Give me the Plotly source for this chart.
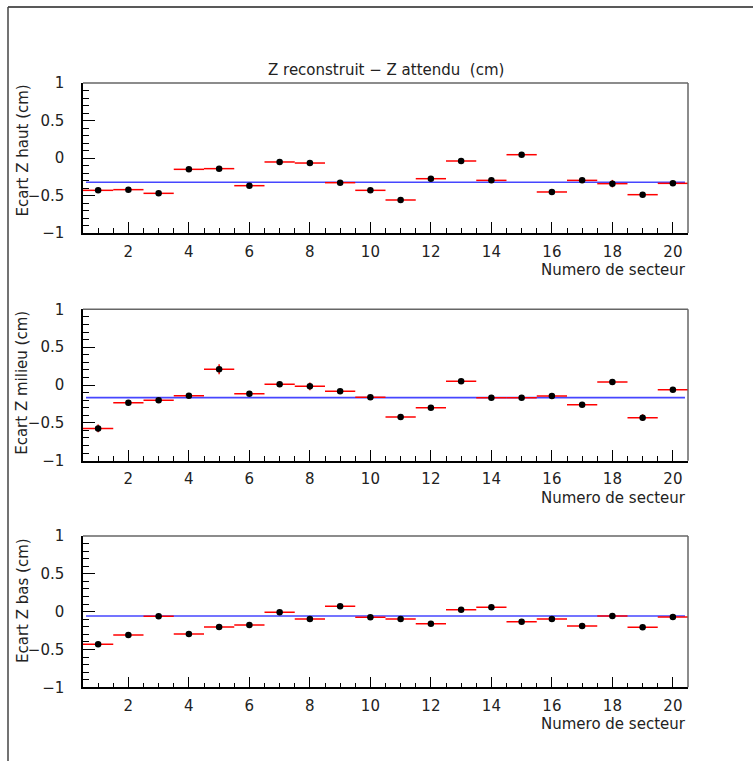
import plotly.graph_objects as go

# ---- data ----
sectors = list(range(1, 21))
z_haut = [-0.431, -0.422, -0.471, -0.151, -0.142, -0.369, -0.053, -0.067, -0.329, -0.431,
          -0.560, -0.276, -0.040, -0.298, 0.044, -0.453, -0.298, -0.342, -0.489, -0.338]
z_milieu = [-0.573, -0.233, -0.203, -0.141, 0.207, -0.115, 0.009, -0.018, -0.084, -0.163,
            -0.423, -0.300, 0.048, -0.167, -0.167, -0.145, -0.260, 0.040, -0.432, -0.062]
z_bas = [-0.432, -0.308, -0.062, -0.295, -0.203, -0.176, -0.009, -0.097, 0.070, -0.075,
         -0.097, -0.159, 0.026, 0.057, -0.132, -0.097, -0.189, -0.057, -0.207, -0.070]
err_haut = [0.02, 0.02, 0.02, 0.02, 0.02, 0.02, 0.02, 0.02, 0.02, 0.02,
            0.02, 0.02, 0.02, 0.02, 0.02, 0.02, 0.02, 0.05, 0.02, 0.02]
err_milieu = [0.05, 0.02, 0.02, 0.02, 0.066, 0.02, 0.035, 0.05, 0.02, 0.02,
              0.02, 0.02, 0.02, 0.02, 0.02, 0.02, 0.02, 0.02, 0.045, 0.02]
err_bas = [0.02] * 20
err_x = 0.5
mean_haut = -0.324
mean_milieu = -0.167
mean_bas = -0.057

panels = [
    ("Ecart Z haut (cm)", z_haut, err_haut, mean_haut),
    ("Ecart Z milieu (cm)", z_milieu, err_milieu, mean_milieu),
    ("Ecart Z bas (cm)", z_bas, err_bas, mean_bas),
]

W, H = 753, 761
FONT = "DejaVu Sans"
TXT = "#222222"

# pixel geometry (top, bottom) of each plot frame
frames = [(83, 233), (309.3, 460.7), (536, 687.3)]
x_left, x_right = 83, 688

def px(x):
    return x / W

def py(y):
    return 1 - y / H

fig = go.Figure()
shapes = []
annotations = []

for i, (ytitle, vals, errs, mean) in enumerate(panels):
    n = i + 1
    xa = "x" if n == 1 else f"x{n}"
    ya = "y" if n == 1 else f"y{n}"
    # mean line
    fig.add_trace(go.Scatter(
        x=[sectors[0] - 0.4, sectors[-1] + 0.4], y=[mean, mean],
        mode="lines", line=dict(color="rgb(70,70,255)", width=1.6),
        xaxis=xa, yaxis=ya, showlegend=False, hoverinfo="skip"))
    # points
    fig.add_trace(go.Scatter(
        x=sectors, y=vals, mode="markers",
        marker=dict(color="black", size=6.5),
        error_x=dict(type="constant", value=err_x, color="rgb(255,0,0)", thickness=1.5, width=0),
        error_y=dict(type="data", array=errs, color="rgb(255,0,0)", thickness=1.5, width=0),
        xaxis=xa, yaxis=ya, showlegend=False))

    top, bot = frames[i]
    axis_x = dict(
        domain=[px(x_left), px(x_right)], range=[0.5, 20.5], anchor=ya,
        showgrid=False, zeroline=False, showline=True, linecolor="black", linewidth=1.5,
        ticks="inside", ticklen=11, tickwidth=1.1, tickcolor="black",
        tickvals=list(range(2, 21, 2)), automargin=False,
        minor=dict(ticks="inside", ticklen=5, tickwidth=1.1, tickcolor="black", dtick=0.5, tick0=0.5),
        tickfont=dict(family=FONT, size=15, color=TXT), ticklabelstandoff=4,
    )
    axis_y = dict(
        domain=[py(bot), py(top)], range=[-1, 1], anchor=xa,
        showgrid=False, zeroline=False, showline=True, linecolor="black", linewidth=1.5,
        ticks="inside", ticklen=12, tickwidth=1.1, tickcolor="black", automargin=False,
        tickvals=[-1, -0.5, 0, 0.5, 1], ticktext=["\u22121", "\u22120.5", "0", "0.5", "1"],
        minor=dict(ticks="inside", ticklen=6, tickwidth=1.1, tickcolor="black", dtick=0.1, tick0=0),
        tickfont=dict(family=FONT, size=15, color=TXT), ticklabelstandoff=14,
    )
    key = "" if n == 1 else str(n)
    fig.update_layout(**{f"xaxis{key}": axis_x, f"yaxis{key}": axis_y})

    # top & right frame lines (grey)
    shapes.append(dict(type="line", xref="paper", yref="paper",
                       x0=px(x_left), x1=px(x_right), y0=py(top), y1=py(top),
                       line=dict(color="#666666", width=1.5)))
    shapes.append(dict(type="line", xref="paper", yref="paper",
                       x0=px(x_right), x1=px(x_right), y0=py(top), y1=py(bot),
                       line=dict(color="#666666", width=1.5)))
    # y title (aligned to top of axis)
    annotations.append(dict(text=ytitle, xref="paper", yref="paper",
                            x=px(22.5), y=py(top), xanchor="center", yanchor="top",
                            textangle=-90, showarrow=False,
                            font=dict(family=FONT, size=15, color=TXT)))
    # x title (right aligned)
    annotations.append(dict(text="Numero de secteur", xref="paper", yref="paper",
                            x=px(x_right), y=py(bot + 37), xanchor="right", yanchor="middle",
                            showarrow=False, font=dict(family=FONT, size=15, color=TXT)))

# title
annotations.append(dict(text="Z reconstruit \u2212 Z attendu &nbsp;(cm)", xref="paper", yref="paper",
                        x=px((x_left + x_right) / 2), y=py(70), xanchor="center", yanchor="middle",
                        showarrow=False, font=dict(family=FONT, size=15, color=TXT)))

# page border lines
shapes.append(dict(type="line", xref="paper", yref="paper", x0=px(8), x1=1, y0=py(7), y1=py(7),
                   line=dict(color="#222222", width=1.5)))
shapes.append(dict(type="line", xref="paper", yref="paper", x0=px(8), x1=px(8), y0=py(7), y1=0,
                   line=dict(color="#444444", width=1.5)))

fig.update_layout(
    width=W, height=H, margin=dict(l=0, r=0, t=0, b=0, pad=0, autoexpand=False),
    paper_bgcolor="white", plot_bgcolor="white",
    shapes=shapes, annotations=annotations, showlegend=False,
)

post = (
    "document.documentElement.style.margin='0';"
    "document.documentElement.style.padding='0';"
    "document.documentElement.style.overflow='hidden';"
    "document.body.style.margin='0';"
    "document.body.style.padding='0';"
    "document.body.style.overflow='hidden';"
    "var d=document.getElementById('{plot_id}');"
    "d.style.position='fixed';d.style.left='0px';d.style.top='0px';"
)

fig.write_html("out.html", config={"displayModeBar": False}, post_script=post)
